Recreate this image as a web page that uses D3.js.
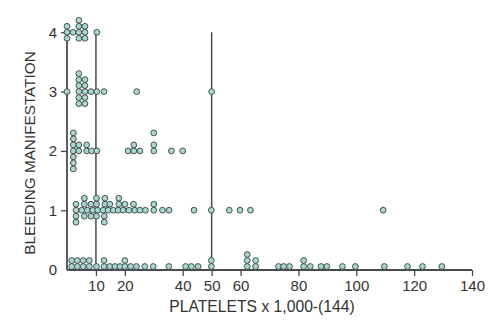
<!DOCTYPE html>
<html>
<head>
<meta charset="utf-8">
<script src="https://cdn.jsdelivr.net/npm/d3@7"></script>
<style>
  html, body { margin: 0; padding: 0; background: #fff; }
  svg { display: block; }
  text { font-family: "Liberation Sans", Arial, sans-serif; fill: #333; }
</style>
</head>
<body>
<svg id="chart" width="500" height="321"></svg>
<script>
// ---- data (platelets x1000, stack slot within the grade) ----
const xTicks = [10, 20, 40, 50, 60, 80, 100, 120, 140];
const yTicks = [0, 1, 2, 3, 4];
const refLines = [10, 50];
const xTitle = "PLATELETS x 1,000-(144)";
const yTitle = "BLEEDING MANIFESTATION";

const grade4 = [[0,1],[0,0],[0,-1],[2.1,0],[4.1,2],[4.1,1],[4.1,0],[4.1,-1],
  [6.2,1],[6.2,0],[6.2,-1],[10.3,0]];

const grade3 = [[0,0],[4.1,3],[4.1,2],[4.1,1],[4.1,0],[4.1,-1],[4.1,-2],
  [6.2,2],[6.2,1],[6.2,0],[6.2,-1],[6.2,-2],[8.3,0],[10.3,0],[12.8,0],[24.1,0],[50,0]];

const grade2 = [[2.2,3],[2.2,2],[2.2,1],[2.2,0],[2.2,-1],[2.2,-2],[2.2,-3],
  [4.1,1],[4.1,0],[6.8,1],[6.8,0],[8.5,0],[10.3,0],[21.1,0],[23.1,1],[23.1,0],
  [25.2,0],[30,3],[30,1],[30,0],[36.1,0],[40,0]];

const grade1 = [
  [3.1,0],[5.1,0],[7.0,0],[8.9,0],[10.6,0],[12.5,0],[14.2,0],[16.0,0],[17.7,0],
  [19.4,0],[21.4,0],[23.4,0],[25.2,0],[27.1,0],[30.0,0],[33.0,0],[35.3,0],
  [43.9,0],[49.9,0],[56.1,0],[59.8,0],[63.4,0],[109.3,0],
  [3.1,1],[6.0,1],[8.3,1],[10.2,1],[13.1,1],[14.8,1],[17.9,1],[20.0,1],[23.0,1],[30.0,1],
  [6.0,2],[10.2,2],[13.1,2],[17.9,2],
  [3.1,-1],[6.0,-1],[8.3,-1],[10.2,-1],[12.9,-1],
  [3.1,-2],[12.9,-2]];

const grade0 = [
  [1.6,0],[3.6,0],[5.6,0],[7.7,0],[10.2,0],[12.8,0],[14.8,0],[16.6,0],[18.3,0],
  [20.0,0],[22.0,0],[24.0,0],[26.9,0],[29.8,0],[35.2,0],[41.0,0],[43.0,0],[45.3,0],
  [49.9,0],[62.3,0],[65.2,0],[73.1,0],[74.9,0],[76.9,0],[81.8,0],[84.1,0],[87.8,0],
  [89.8,0],[95.2,0],[99.7,0],[109.7,0],[117.7,0],[122.9,0],[129.6,0],
  [1.6,1],[3.6,1],[5.6,1],[7.7,1],[12.8,1],[20.0,1],[49.9,1],[62.3,1],[65.2,1],[81.8,1],
  [62.3,2]];

const gradeData = [grade0, grade1, grade2, grade3, grade4];

// ---- layout ----
const svg = d3.select("#chart");
const x = d3.scaleLinear().domain([0, 140]).range([67, 472]);
const y = d3.scaleLinear().domain([0, 4]).range([269.5, 32.3]);
const slot = 6;      // vertical px between stacked dots
const r = 2.9;
const lineColor = "#4a4a4a";

const points = [];
gradeData.forEach((arr, g) => {
  arr.forEach(([p, s]) => points.push({p, g, s}));
});

// reference vertical lines
svg.append("g").selectAll("line").data(refLines).join("line")
  .attr("x1", d => x(d)).attr("x2", d => x(d))
  .attr("y1", y(4)).attr("y2", y(0) + 0.5)
  .attr("stroke", lineColor).attr("stroke-width", 1.5);

// x axis
const xAxis = d3.axisBottom(x).tickValues(xTicks).tickSize(6).tickPadding(4)
  .tickFormat(d3.format("d"));
const gx = svg.append("g").attr("transform", `translate(0,${y(0) + 0.5})`).call(xAxis);
gx.select(".domain").attr("d", `M${x(0)},0H${x(140)}`)
  .attr("stroke", lineColor).attr("stroke-width", 1.8);
gx.selectAll(".tick line").attr("stroke", lineColor).attr("stroke-width", 1.3);
gx.selectAll(".tick text").style("font-size", "15px").style("fill", "#333")
  .attr("font-family", null);

// y axis
const yAxis = d3.axisLeft(y).tickValues(yTicks).tickSize(6).tickPadding(4)
  .tickFormat(d3.format("d"));
const gy = svg.append("g").attr("transform", `translate(${x(0)},0)`).call(yAxis);
gy.select(".domain").attr("d", `M0,${y(0) + 0.5}V${y(4)}`)
  .attr("stroke", lineColor).attr("stroke-width", 1.8);
gy.selectAll(".tick line").attr("stroke", lineColor).attr("stroke-width", 1.3);
gy.selectAll(".tick text").style("font-size", "15px").style("fill", "#333")
  .attr("font-family", null);
gy.selectAll(".tick").filter(d => d === 0).select("line").remove();

// dots
svg.append("g").selectAll("circle").data(points).join("circle")
  .attr("cx", d => x(d.p))
  .attr("cy", d => y(d.g) - d.s * slot - (d.g === 0 ? 3 : 0))
  .attr("r", r)
  .attr("fill", "#a9d6cf")
  .attr("stroke", "#34433f")
  .attr("stroke-width", 0.9);

// titles
svg.append("text").attr("x", 262).attr("y", 312)
  .attr("text-anchor", "middle").style("font-size", "15.7px").text(xTitle);
svg.append("text")
  .attr("transform", `translate(35,${(48 + 258) / 2}) rotate(-90)`)
  .attr("text-anchor", "middle").style("font-size", "15.3px").text(yTitle);
</script>
</body>
</html>
